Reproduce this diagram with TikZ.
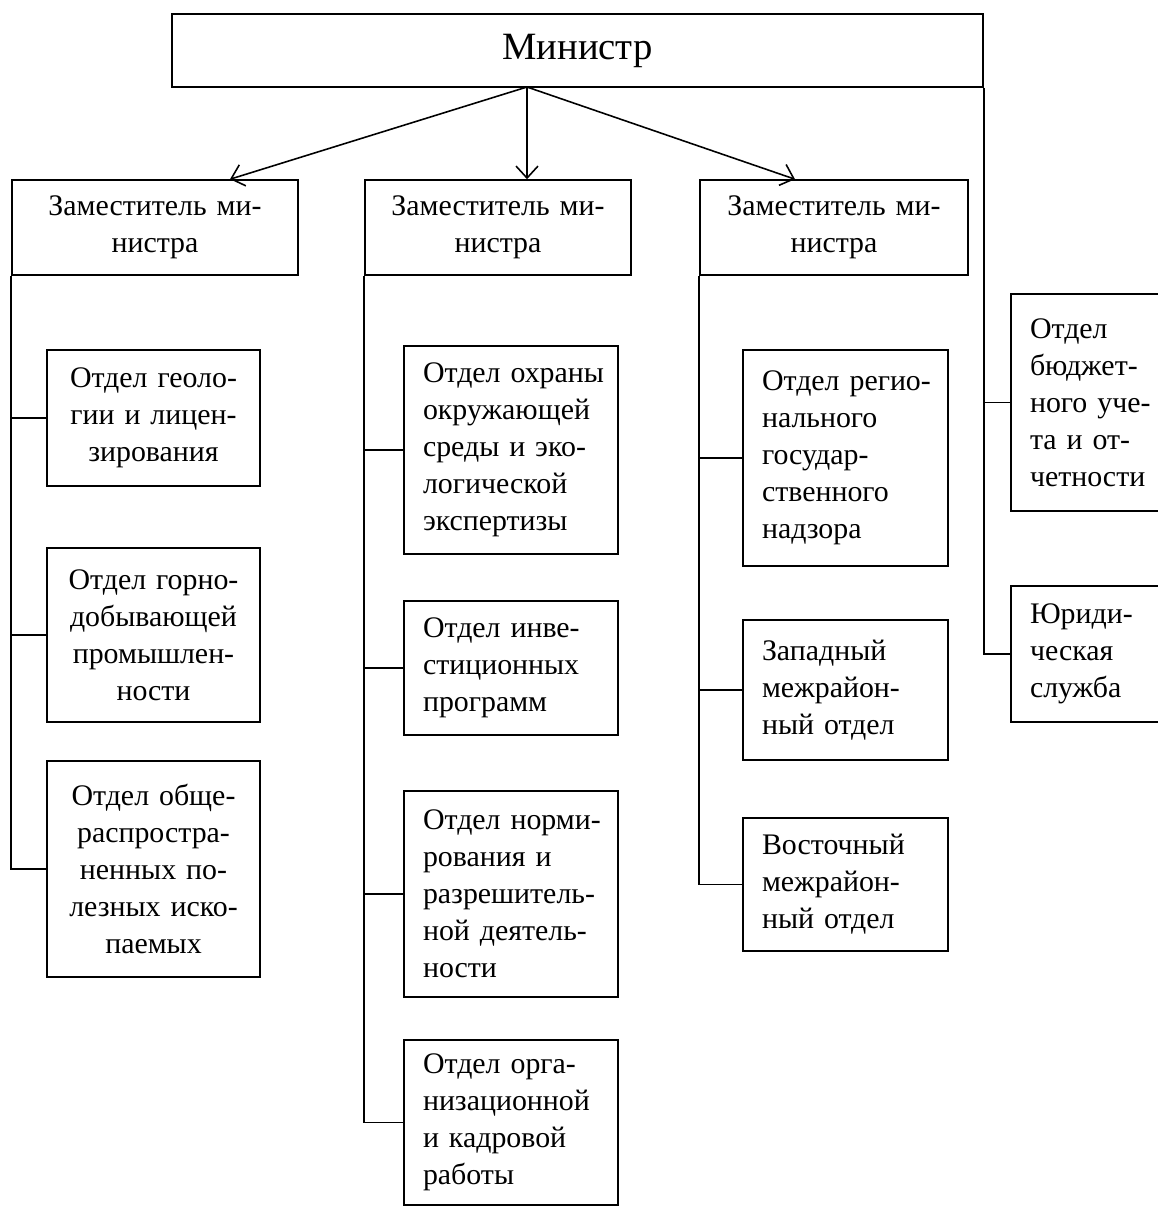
\documentclass[tikz,border=0pt]{standalone}
\usepackage{fontspec}
\setmainfont{Liberation Serif}
\usetikzlibrary{calc,arrows.meta}
\begin{document}
\begin{tikzpicture}[x=0.02cm, y=-0.02cm, line width=0.9pt,
  otdel/.style={draw, inner sep=0pt, font=\fontsize{17}{21}\selectfont},
  zam/.style={otdel, minimum width=#1, minimum height=1.9cm, text width=#1, align=center},
  ctr/.style={align=center},
  lft/.style={align=left},
  >={Straight Barb[length=2.4mm, width=4.4mm]}]
\useasboundingbox (0,0) rectangle (1158,1207);
% top
\node[otdel, minimum width=16.22cm, minimum height=1.46cm, font=\fontsize{22}{26}\selectfont] (min) at (577.5,50.5) {Министр};
\node[zam=5.72cm] (zam1) at (155,227.5) {Заместитель ми-\\нистра};
\node[zam=5.32cm] (zam2) at (498,227.5) {Заместитель ми-\\нистра};
\node[zam=5.36cm] (zam3) at (834,227.5) {Заместитель ми-\\нистра};
\coordinate (mfork) at (527,87);
\draw[->] (mfork) -- ($(zam1.north)+(75,0)$);
\draw[->] (mfork) -- ($(zam2.north)+(29,0)$);
\draw[->] (mfork) -- ($(zam3.north)+(-39,0)$);
% left column
\node[otdel, ctr, minimum width=4.26cm, minimum height=2.72cm, text width=4.26cm] (geol) at (153.5,418) {Отдел геоло-\\гии и лицен-\\зирования};
\node[otdel, ctr, minimum width=4.26cm, minimum height=3.48cm, text width=4.26cm] (gorn) at (153.5,635) {Отдел горно-\\добывающей\\промышлен-\\ности};
\node[otdel, ctr, minimum width=4.26cm, minimum height=4.32cm, text width=4.26cm] (obsh) at (153.5,869) {Отдел обще-\\распростра-\\ненных по-\\лезных иско-\\паемых};
\draw (zam1.south west) |- (obsh.west);
\draw (zam1.south west |- geol.west) -- (geol.west);
\draw (zam1.south west |- gorn.west) -- (gorn.west);
% middle column
\node[otdel, lft, minimum width=4.28cm, minimum height=4.16cm, text width=3.52cm] (ohra) at (511,450) {\mbox{Отдел охраны}\\окружающей\\среды и эко-\\логической\\экспертизы};
\node[otdel, lft, minimum width=4.28cm, minimum height=2.68cm, text width=3.52cm] (inve) at (511,668) {Отдел инве-\\стиционных\\программ};
\node[otdel, lft, minimum width=4.28cm, minimum height=4.12cm, text width=3.52cm] (norm) at (511,894) {\mbox{Отдел норми-}\\рования и\\разрешитель-\\ной деятель-\\ности};
\node[otdel, lft, minimum width=4.28cm, minimum height=3.3cm, text width=3.52cm] (kadr) at (511,1122.5) {Отдел орга-\\низационной\\и кадровой\\работы};
\draw (zam2.south west) |- (kadr.west);
\draw (zam2.south west |- ohra.west) -- (ohra.west);
\draw (zam2.south west |- inve.west) -- (inve.west);
\draw (zam2.south west |- norm.west) -- (norm.west);
% right column
\node[otdel, lft, minimum width=4.1cm, minimum height=4.32cm, text width=3.34cm] (regn) at (845.5,458) {\mbox{Отдел регио-}\\нального\\государ-\\ственного\\надзора};
\node[otdel, lft, minimum width=4.1cm, minimum height=2.8cm, text width=3.34cm] (zapd) at (845.5,690) {Западный\\межрайон-\\ный отдел};
\node[otdel, lft, minimum width=4.1cm, minimum height=2.66cm, text width=3.34cm] (vost) at (845.5,884.5) {Восточный\\межрайон-\\ный отдел};
\draw (zam3.south west) |- (vost.west);
\draw (zam3.south west |- regn.west) -- (regn.west);
\draw (zam3.south west |- zapd.west) -- (zapd.west);
% far right
\node[otdel, lft, minimum width=3.2cm, minimum height=4.34cm, text width=2.44cm] (budg) at (1091,402.5) {Отдел\\бюджет-\\ного уче-\\та и от-\\четности};
\node[otdel, lft, minimum width=3.2cm, minimum height=2.72cm, text width=2.44cm] (jur) at (1091,654) {Юриди-\\ческая\\служба};
\draw (min.south east) |- (jur.west);
\draw (min.south east |- budg.west) -- (budg.west);
\end{tikzpicture}
\end{document}
